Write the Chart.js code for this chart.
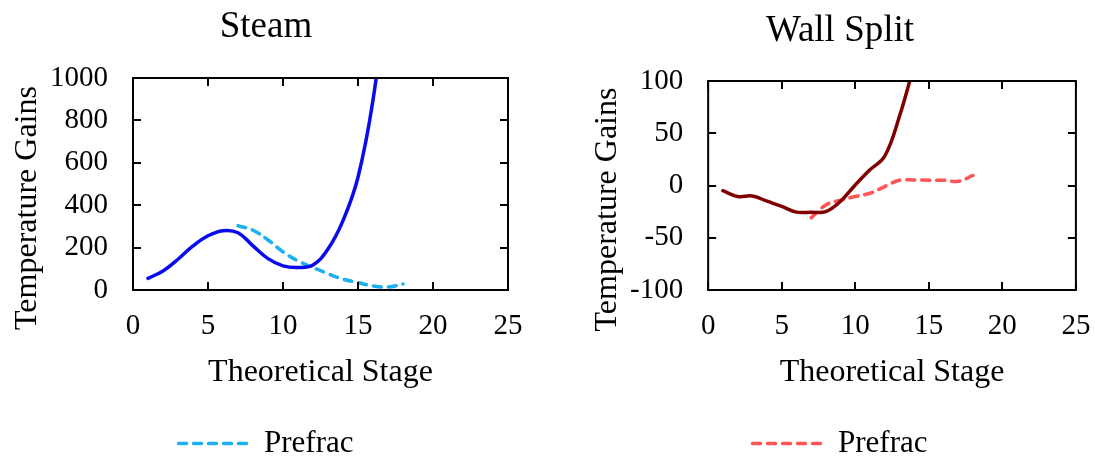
<!DOCTYPE html>
<html>
<head>
<meta charset="utf-8">
<script src="https://cdn.jsdelivr.net/npm/chart.js@4/dist/chart.umd.min.js"></script>
<style>
    html, body { margin: 0; padding: 0; background: #fff; overflow: hidden; }
    #wrap { position: relative; width: 1095px; height: 458px; overflow: hidden; }
    .box { position: absolute; top: 0; height: 458px; }
</style>
</head>
<body>
<div id="wrap">
    <div class="box" style="left:0; width:547px;"><canvas id="chartSteam"></canvas></div>
    <div class="box" style="left:547px; width:562px;"><canvas id="chartWall"></canvas></div>
</div>
<script>
// stages (x) and values
const steamStages = [1, 2, 3, 4, 5, 6, 7, 8, 9, 10, 11, 12, 13, 14, 15, 16, 17];
const steamMain = [55, 90, 145, 208, 256, 280, 270, 208, 148, 114, 106, 118, 193, 327, 532, 896, 1450];
const steamPrefracStages = [7, 8, 9, 10, 11, 12, 13, 14, 15, 16, 17, 18];
const steamPrefrac = [303, 282, 236, 180, 137, 106, 77, 51, 35, 19, 14, 28];

const wallStages = [1, 2, 3, 4, 5, 6, 7, 8, 9, 10, 11, 12, 13, 14];
const wallMain = [-5, -10.5, -10, -15, -20, -25.5, -25.5, -25, -15, 0.5, 15, 28, 66, 115];
const wallPrefracStages = [7, 8, 9, 10, 11, 12, 13, 14, 15, 16, 17, 18];
const wallPrefrac = [-31, -18.6, -14, -10.6, -7.4, -1, 5, 5.3, 5, 5, 4, 9.6];

const SERIF = "'Liberation Serif', 'DejaVu Serif', serif";
Chart.defaults.color = '#000';
Chart.defaults.font.family = SERIF;

const LINE_W = 3.5;
const DASH = [8, 7];

function toPoints(xs, ys) {
    return xs.map((x, i) => ({ x: x, y: ys[i] }));
}

// gnuplot-like frame with inward ticks on all four sides
const frameTicks = {
    id: 'frameTicks',
    afterDatasetsDraw(chart) {
        const { ctx, chartArea: a, scales } = chart;
        const len = 8;
        ctx.save();
        ctx.strokeStyle = '#000';
        ctx.lineWidth = 2;
        ctx.beginPath();
        scales.x.ticks.forEach(t => {
            const px = Math.round(scales.x.getPixelForValue(t.value));
            ctx.moveTo(px, a.bottom); ctx.lineTo(px, a.bottom - len);
            ctx.moveTo(px, a.top); ctx.lineTo(px, a.top + len);
        });
        scales.y.ticks.forEach(t => {
            const py = Math.round(scales.y.getPixelForValue(t.value));
            ctx.moveTo(a.left, py); ctx.lineTo(a.left + len, py);
            ctx.moveTo(a.right, py); ctx.lineTo(a.right - len, py);
        });
        ctx.stroke();
        ctx.strokeRect(a.left, a.top, a.right - a.left, a.bottom - a.top);
        ctx.restore();
    }
};

// legend entries drawn as the dashed line itself
function legendLabels(chart) {
    return chart.data.datasets.map((ds, i) => ({
        text: ds.label,
        datasetIndex: i,
        hidden: false,
        fontColor: '#000',
        fillStyle: ds.borderColor,
        strokeStyle: ds.borderColor,
        lineWidth: LINE_W,
        lineDash: ds.borderDash || [],
        lineCap: 'round',
        pointStyle: 'line'
    }));
}

function makeOptions(title, yMin, yMax, yStep, pad, titlePad, yTitlePadTop) {
    return {
        responsive: true,
        maintainAspectRatio: false,
        animation: false,
        layout: { padding: pad },
        plugins: {
            title: {
                display: true,
                text: title,
                font: { size: 37, weight: 'normal' },
                padding: titlePad
            },
            legend: {
                position: 'bottom',
                labels: {
                    usePointStyle: true,
                    pointStyleWidth: 70,
                    font: { size: 31 },
                    padding: 0,
                    generateLabels: legendLabels,
                    filter: item => item.text === 'Prefrac'
                }
            },
            tooltip: { enabled: false }
        },
        scales: {
            x: {
                type: 'linear',
                min: 0,
                max: 25,
                grid: { display: false, drawTicks: false },
                border: { display: false },
                ticks: { stepSize: 5, padding: 18.6, font: { size: 29 } },
                title: {
                    display: true,
                    text: 'Theoretical Stage',
                    font: { size: 32 },
                    padding: { top: -8.2, bottom: 35.8 }
                }
            },
            y: {
                min: yMin,
                max: yMax,
                grid: { display: false, drawTicks: false },
                border: { display: false },
                ticks: {
                    stepSize: yStep,
                    padding: 25,
                    font: { size: 29 },
                    callback: v => String(v)
                },
                title: {
                    display: true,
                    // trailing spaces push the label a little below the axis centre, as in the original
                    text: 'Temperature Gains      ',
                    font: { size: 32 },
                    padding: { top: yTitlePadTop, bottom: -22.2 }
                }
            }
        },
        elements: {
            point: { radius: 0 },
            line: { tension: 0.4, borderWidth: LINE_W, borderCapStyle: 'round' }
        }
    };
}

// --- STEAM ---
const steamChart = new Chart(document.getElementById('chartSteam'), {
    type: 'line',
    data: {
        datasets: [{
            label: '',
            data: toPoints(steamStages, steamMain),
            borderColor: '#0a0aee',
            backgroundColor: '#0a0aee'
        }, {
            label: 'Prefrac',
            data: toPoints(steamPrefracStages, steamPrefrac),
            borderColor: '#1cb0ee',
            backgroundColor: '#1cb0ee',
            borderDash: DASH
        }]
    },
    options: makeOptions('Steam', 0, 1000, 200,
        { left: 24, right: 39, top: 0, bottom: -11 }, { top: 5, bottom: 28.6 }, -15.2),
    plugins: [frameTicks]
});

// --- WALL SPLIT ---
const wallChart = new Chart(document.getElementById('chartWall'), {
    type: 'line',
    data: {
        datasets: [{
            label: '',
            data: toPoints(wallStages, wallMain),
            borderColor: '#800000',
            backgroundColor: '#800000'
        }, {
            label: 'Prefrac',
            data: toPoints(wallPrefracStages, wallPrefrac),
            borderColor: '#ff5555',
            backgroundColor: '#ff5555',
            borderDash: DASH
        }]
    },
    options: makeOptions('Wall Split', -100, 100, 50,
        { left: 24, right: 0, top: 0, bottom: -11 }, { top: 9, bottom: 27.6 }, 17.8),
    plugins: [frameTicks]
});
</script>
</body>
</html>
